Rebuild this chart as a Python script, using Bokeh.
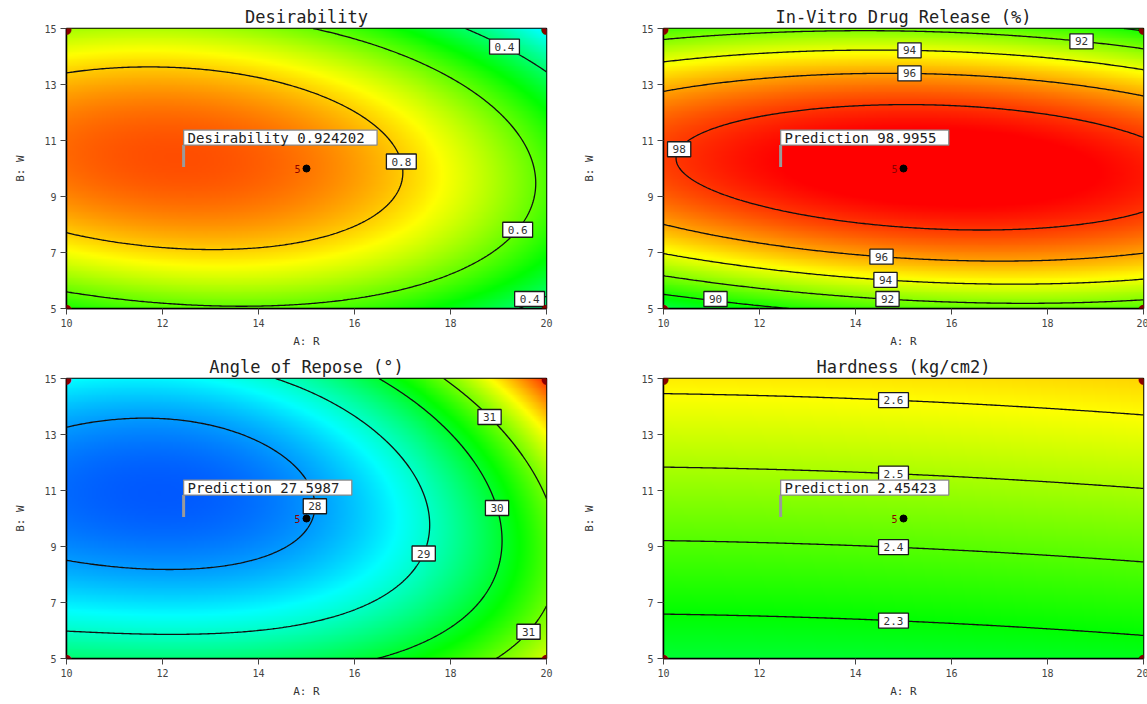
import numpy as np
import contourpy
from bokeh.plotting import figure
from bokeh.layouts import column, row
from bokeh.models import FixedTicker, Label
from bokeh.core.properties import value
from bokeh.embed import file_html
from bokeh.resources import INLINE

# Factor ranges (A: R, B: W) and design points
R_LIMITS = [10, 20]
W_LIMITS = [5, 15]
R_TICKS = [10, 12, 14, 16, 18, 20]
W_TICKS = [5, 7, 9, 11, 13, 15]
FACTORIAL_R = [10, 10, 20, 20]
FACTORIAL_W = [5, 15, 5, 15]
CENTER_R = [15]
CENTER_W = [10]
CENTER_REPS = ["5"]

# Optimum location shown by the prediction flags
OPT_R = 12.44
OPT_W = 10.05

# Fitted response-surface coefficients in coded units
# terms: 1, A, B, AB, A^2, B^2, A^2B, AB^2, A^3, B^3
DESIRABILITY_COEF = [0.8839, -0.1480, 0.0114, -0.0649, -0.1487, -0.2907, -0.0090, 0.0114, -0.0114, 0.0011]
RELEASE_COEF = [99.5689, 0.4792, 0.2940, -0.9821, -1.3858, -8.2058, -0.0361, 0.0285, -0.1019, 0.0584]
REPOSE_COEF = [27.9667, 1.2563, -0.2930, 0.6319, 1.3266, 1.4958, 0.4157, 0.1105, 0.3107, 0.0604]
# terms: 1, A, B, AB, A^2, B^2
HARDNESS_COEF = [2.4396, 0.0145, 0.1905, 0.0, 0.005, 0.0]

TITLES = ["Desirability", "In-Vitro Drug Release (%)", "Angle of Repose (°)", "Hardness (kg/cm2)"]
FLAG_NAMES = ["Desirability", "Prediction", "Prediction", "Prediction"]
FLAG_VALUES = ["0.924202", "98.9955", "27.5987", "2.45423"]

DESIRABILITY_LEVELS = [0.4, 0.6, 0.8]
RELEASE_LEVELS = [90, 92, 94, 96, 98]
REPOSE_LEVELS = [28, 29, 30, 31]
HARDNESS_LEVELS = [2.3, 2.4, 2.5, 2.6]

# colour-scale limits for each response
DESIRABILITY_SCALE = [0.0, 1.0]
RELEASE_SCALE = [80.0, 99.0]
REPOSE_SCALE = [27.0, 33.6]
HARDNESS_SCALE = [1.7, 2.9]

# where each contour carries its value tag (level, near R, near W)
DESIRABILITY_TAGS = [(0.4, 19.12, 14.36), (0.8, 17.16, 10.29), (0.6, 19.31, 7.86), (0.4, 19.65, 5.54)]
RELEASE_TAGS = [(98, 10.4, 10.64), (96, 15.12, 13.5), (94, 15.12, 14.3), (92, 18.73, 14.75),
                (96, 14.54, 6.95), (94, 14.65, 6.1), (92, 14.65, 5.35), (90, 11.1, 5.4)]
REPOSE_TAGS = [(28, 14.9, 10.45), (29, 17.08, 8.82), (30, 19.0, 10.37), (31, 18.9, 13.68), (31, 19.58, 6.0)]
HARDNESS_TAGS = [(2.6, 14.8, 14.3), (2.5, 14.8, 11.7), (2.4, 14.8, 9.06), (2.3, 14.8, 6.42)]

FONT = "DejaVu Sans Mono"
FRAME_W, FRAME_H = 480, 280

xs = np.linspace(R_LIMITS[0], R_LIMITS[1], 241)
ys = np.linspace(W_LIMITS[0], W_LIMITS[1], 161)
XX, YY = np.meshgrid(xs, ys)
R_PER_PX = (R_LIMITS[1] - R_LIMITS[0]) / FRAME_W
W_PER_PX = (W_LIMITS[1] - W_LIMITS[0]) / FRAME_H


def model(coef, r, w):
    a = (np.asarray(r, float) - 15) / 5
    b = (np.asarray(w, float) - 10) / 5
    terms = [np.ones_like(a), a, b, a * b, a ** 2, b ** 2]
    if len(coef) == 10:
        terms += [a ** 2 * b, a * b ** 2, a ** 3, b ** 3]
    return sum(c * t for c, t in zip(coef, terms))


def rgba(Z, lo, hi):
    t = np.clip((Z - lo) / (hi - lo), 0, 1)
    s = [0, .25, .5, .75, 1]
    img = np.empty(Z.shape, dtype=np.uint32)
    v = img.view(dtype=np.uint8).reshape(Z.shape + (4,))
    v[..., 0] = np.interp(t, s, [0, 0, 0, 255, 255])
    v[..., 1] = np.interp(t, s, [0, 255, 255, 255, 0])
    v[..., 2] = np.interp(t, s, [255, 255, 0, 0, 0])
    v[..., 3] = 255
    return img


def panel(idx, coef, scale, levels, tags, lb, rb, bb, ystand):
    Z = model(coef, XX, YY)
    p = figure(frame_width=FRAME_W, frame_height=FRAME_H, x_range=R_LIMITS, y_range=W_LIMITS,
               output_backend="svg", toolbar_location=None,
               min_border_left=lb, min_border_right=rb, min_border_top=28, min_border_bottom=bb,
               background_fill_color="white", border_fill_color="white")
    p.image_rgba(image=[rgba(Z, scale[0], scale[1])], x=R_LIMITS[0], y=W_LIMITS[0],
                 dw=R_LIMITS[1] - R_LIMITS[0], dh=W_LIMITS[1] - W_LIMITS[0])

    gen = contourpy.contour_generator(xs, ys, Z)
    paths = {}
    for lv in levels:
        segs = gen.lines(lv)
        paths[lv] = segs
        if segs:
            p.multi_line([s[:, 0] for s in segs], [s[:, 1] for s in segs],
                         line_color="#111111", line_width=1.3)

    # value tags sit on their contour, at the vertex nearest the requested spot,
    # kept inside the frame
    tx, ty, tt, tw = [], [], [], []
    for lv, hr, hw in tags:
        segs = paths.get(lv) or []
        if not segs:
            continue
        pts = np.vstack(segs)
        d = ((pts[:, 0] - hr) / 10) ** 2 + ((pts[:, 1] - hw) / 10) ** 2
        k = int(np.argmin(d))
        label = f"{lv:g}"
        w = 6.62 * len(label) + 10
        hx = (w / 2 + 2) * R_PER_PX
        hy = 9.5 * W_PER_PX
        cx = min(max(pts[k, 0], R_LIMITS[0] + hx), R_LIMITS[1] - hx)
        cy = min(max(pts[k, 1], W_LIMITS[0] + hy), W_LIMITS[1] - hy)
        tx.append(cx); ty.append(cy); tt.append(label); tw.append(w)
    p.rect(tx, ty, width=tw, height=[15] * len(tx), width_units="screen", height_units="screen",
           fill_color="white", line_color="#1a1a1a", line_width=1.3)
    p.text(tx, ty, text=tt, text_align="center", text_baseline="middle",
           text_font=value(FONT), text_font_size="11px", text_color="#333333")

    # design points
    p.scatter(CENTER_R, CENTER_W, size=7, color="black")
    p.text(CENTER_R, CENTER_W, text=CENTER_REPS, x_offset=-6, text_align="right", text_baseline="middle",
           text_font=value(FONT), text_font_size="10px", text_color="#8b0000")
    for r, w in zip(FACTORIAL_R, FACTORIAL_W):
        p.add_layout(Label(x=r, y=w, text="●", text_align="center", text_baseline="middle",
                           text_font="DejaVu Sans", text_font_size="13px", text_color="#8b0000"))

    # prediction flag: pole, box and text
    pole = 22 * W_PER_PX
    ftxt = f"{FLAG_NAMES[idx]}  {FLAG_VALUES[idx]}"
    fw = 8.43 * len(ftxt) + 8
    p.segment(x0=[OPT_R], y0=[OPT_W], x1=[OPT_R], y1=[OPT_W + pole], line_color="#9a9a9a", line_width=3)
    cy = OPT_W + pole + 7.5 * W_PER_PX
    p.rect([OPT_R + fw / 2 * R_PER_PX], [cy], width=[fw], height=[15], width_units="screen",
           height_units="screen", fill_color="white", line_color="#8a8a8a", line_width=1.3)
    p.text([OPT_R], [cy], text=[ftxt], x_offset=4, text_align="left", text_baseline="middle",
           text_font=value(FONT), text_font_size="14px", text_color="#222222")

    p.title.text = TITLES[idx]
    p.title.align = "center"
    p.title.text_font = FONT
    p.title.text_font_size = "17px"
    p.title.text_font_style = "normal"
    p.title.text_color = "#222222"
    p.title.standoff = 4

    p.grid.visible = False
    p.outline_line_color = "black"
    p.outline_line_width = 1.5
    p.xaxis.ticker = FixedTicker(ticks=R_TICKS)
    p.yaxis.ticker = FixedTicker(ticks=W_TICKS)
    p.xaxis.axis_label = "A: R"
    p.yaxis.axis_label = "B: W"
    for ax in (p.xaxis[0], p.yaxis[0]):
        ax.axis_line_color = "black"
        ax.axis_line_width = 1.5
        ax.major_tick_in = 0
        ax.major_tick_out = 6
        ax.major_tick_line_color = "#444444"
        ax.minor_tick_line_color = None
        ax.major_label_text_font = FONT
        ax.major_label_text_font_size = "10px"
        ax.major_label_text_color = "#444444"
        ax.major_label_standoff = 4
        ax.axis_label_text_font = FONT
        ax.axis_label_text_font_size = "11px"
        ax.axis_label_text_font_style = "normal"
        ax.axis_label_text_color = "#333333"
    p.xaxis.axis_label_standoff = 5
    p.yaxis.axis_label_standoff = ystand
    return p


p1 = panel(0, DESIRABILITY_COEF, DESIRABILITY_SCALE, DESIRABILITY_LEVELS, DESIRABILITY_TAGS, 66, 28, 42, 14)
p2 = panel(1, RELEASE_COEF, RELEASE_SCALE, RELEASE_LEVELS, RELEASE_TAGS, 89, 5, 42, 42)
p3 = panel(2, REPOSE_COEF, REPOSE_SCALE, REPOSE_LEVELS, REPOSE_TAGS, 66, 28, 46, 14)
p4 = panel(3, HARDNESS_COEF, HARDNESS_SCALE, HARDNESS_LEVELS, HARDNESS_TAGS, 89, 5, 46, 42)

layout = column(row(p1, p2), row(p3, p4))
open("out.html", "w").write(file_html(layout, INLINE))
